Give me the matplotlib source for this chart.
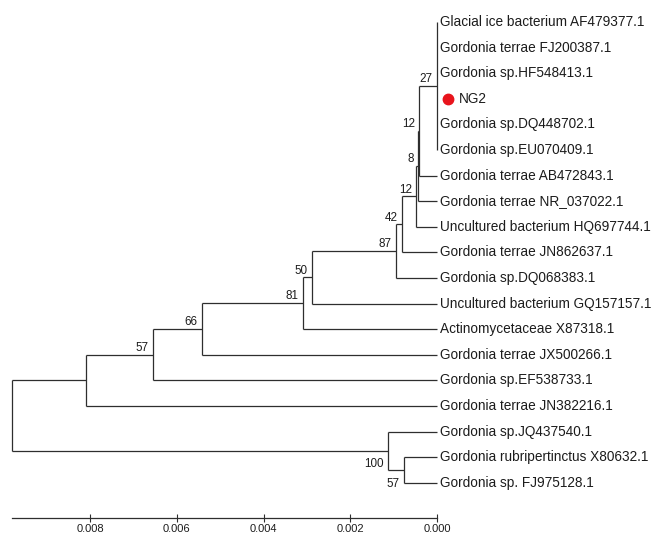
import matplotlib
matplotlib.use('Agg')
import matplotlib.pyplot as plt
from matplotlib.transforms import ScaledTranslation
from matplotlib.ticker import FormatStrFormatter

plt.rcParams['font.family'] = ['Liberation Sans', 'DejaVu Sans']

# tip labels, top to bottom
taxa = [
    'Glacial ice bacterium AF479377.1',
    'Gordonia terrae FJ200387.1',
    'Gordonia sp.HF548413.1',
    'NG2',
    'Gordonia sp.DQ448702.1',
    'Gordonia sp.EU070409.1',
    'Gordonia terrae AB472843.1',
    'Gordonia terrae NR_037022.1',
    'Uncultured bacterium HQ697744.1',
    'Gordonia terrae JN862637.1',
    'Gordonia sp.DQ068383.1',
    'Uncultured bacterium GQ157157.1',
    'Actinomycetaceae X87318.1',
    'Gordonia terrae JX500266.1',
    'Gordonia sp.EF538733.1',
    'Gordonia terrae JN382216.1',
    'Gordonia sp.JQ437540.1',
    'Gordonia rubripertinctus X80632.1',
    'Gordonia sp. FJ975128.1',
]
isolate = 'NG2'

# internal nodes: children (tip index or node name)
node_children = {
    'n27': [0, 1, 2, 3, 4, 5],
    'n12a': ['n27', 6],
    'n8': ['n12a', 7],
    'n12b': ['n8', 8],
    'n42': ['n12b', 9],
    'n87': ['n42', 10],
    'n50': ['n87', 11],
    'n81': ['n50', 12],
    'n66': ['n81', 13],
    'n57a': ['n66', 14],
    'nx': ['n57a', 15],
    'n57b': [17, 18],
    'n100': [16, 'n57b'],
    'root': ['nx', 'n100'],
}

# node heights (distance to tips)
node_height = {
    'n27': 0.0,
    'n12a': 0.000415,
    'n8': 0.000438,
    'n12b': 0.000484,
    'n42': 0.000807,
    'n87': 0.000945,
    'n50': 0.00288,
    'n81': 0.00309,
    'n66': 0.00542,
    'n57a': 0.00655,
    'nx': 0.00809,
    'n57b': 0.00076,
    'n100': 0.00113,
    'root': 0.0098,
}

# bootstrap values
node_support = {
    'n27': '27', 'n12a': '12', 'n8': '8', 'n12b': '12', 'n42': '42',
    'n87': '87', 'n50': '50', 'n81': '81', 'n66': '66', 'n57a': '57',
    'n57b': '57', 'n100': '100',
}

scale_ticks = [0.008, 0.006, 0.004, 0.002, 0.000]

line_col = '#2e2e2e'
text_col = '#1c1c1c'
support_below = {'n57b', 'n100'}

fig = plt.figure(figsize=(6.54, 5.36), dpi=100)
ax = fig.add_axes([12 / 654, 18 / 536, 425 / 654, 518 / 536])
ax.set_xlim(node_height['root'], 0)
ax.set_ylim(19.375, -0.859)


def height(c):
    return 0.0 if isinstance(c, int) else node_height[c]


def draw(node):
    if isinstance(node, int):
        return float(node)
    kids = node_children[node]
    ys = [draw(k) for k in kids]
    h = node_height[node]
    y = (ys[0] + ys[-1]) / 2
    ax.plot([h, h], [min(ys), max(ys)], color=line_col, lw=0.9,
            solid_capstyle='butt', clip_on=False)
    for k, ky in zip(kids, ys):
        ax.plot([h, height(k)], [ky, ky], color=line_col, lw=0.9,
                solid_capstyle='butt', clip_on=False)
    lab = node_support.get(node)
    if lab:
        if node in support_below:
            ax.annotate(lab, (h, y), xytext=(-3, -5.5), textcoords='offset points',
                        ha='right', va='top', fontsize=8.4, color=text_col)
        else:
            ax.annotate(lab, (h, y), xytext=(-3, 2.8), textcoords='offset points',
                        ha='right', va='baseline', fontsize=8.4, color=text_col)
    return y


draw('root')

for i, name in enumerate(taxa):
    dx = 2.5
    if name == isolate:
        # red marker in front of the isolate's name
        ax.plot([0], [i], 'o', color='#e8141c', markersize=7.5, clip_on=False,
                transform=ax.transData + ScaledTranslation(11 / 100, 0, fig.dpi_scale_trans))
        dx = 15.5
    ax.annotate(name, (0, i), xytext=(dx, 0), textcoords='offset points',
                ha='left', va='center', fontsize=9.85, color=text_col)

# scale bar along the bottom
for s in ['top', 'left', 'right']:
    ax.spines[s].set_visible(False)
ax.spines['bottom'].set_bounds(0, node_height['root'])
ax.spines['bottom'].set_color(line_col)
ax.spines['bottom'].set_linewidth(0.9)
ax.set_yticks([])
ax.set_xticks(scale_ticks)
ax.xaxis.set_major_formatter(FormatStrFormatter('%.3f'))
ax.tick_params(axis='x', direction='inout', length=6, width=0.8,
               colors=line_col, labelcolor=text_col, labelsize=8.0, pad=1.2)

fig.savefig('out.png', dpi=100)
